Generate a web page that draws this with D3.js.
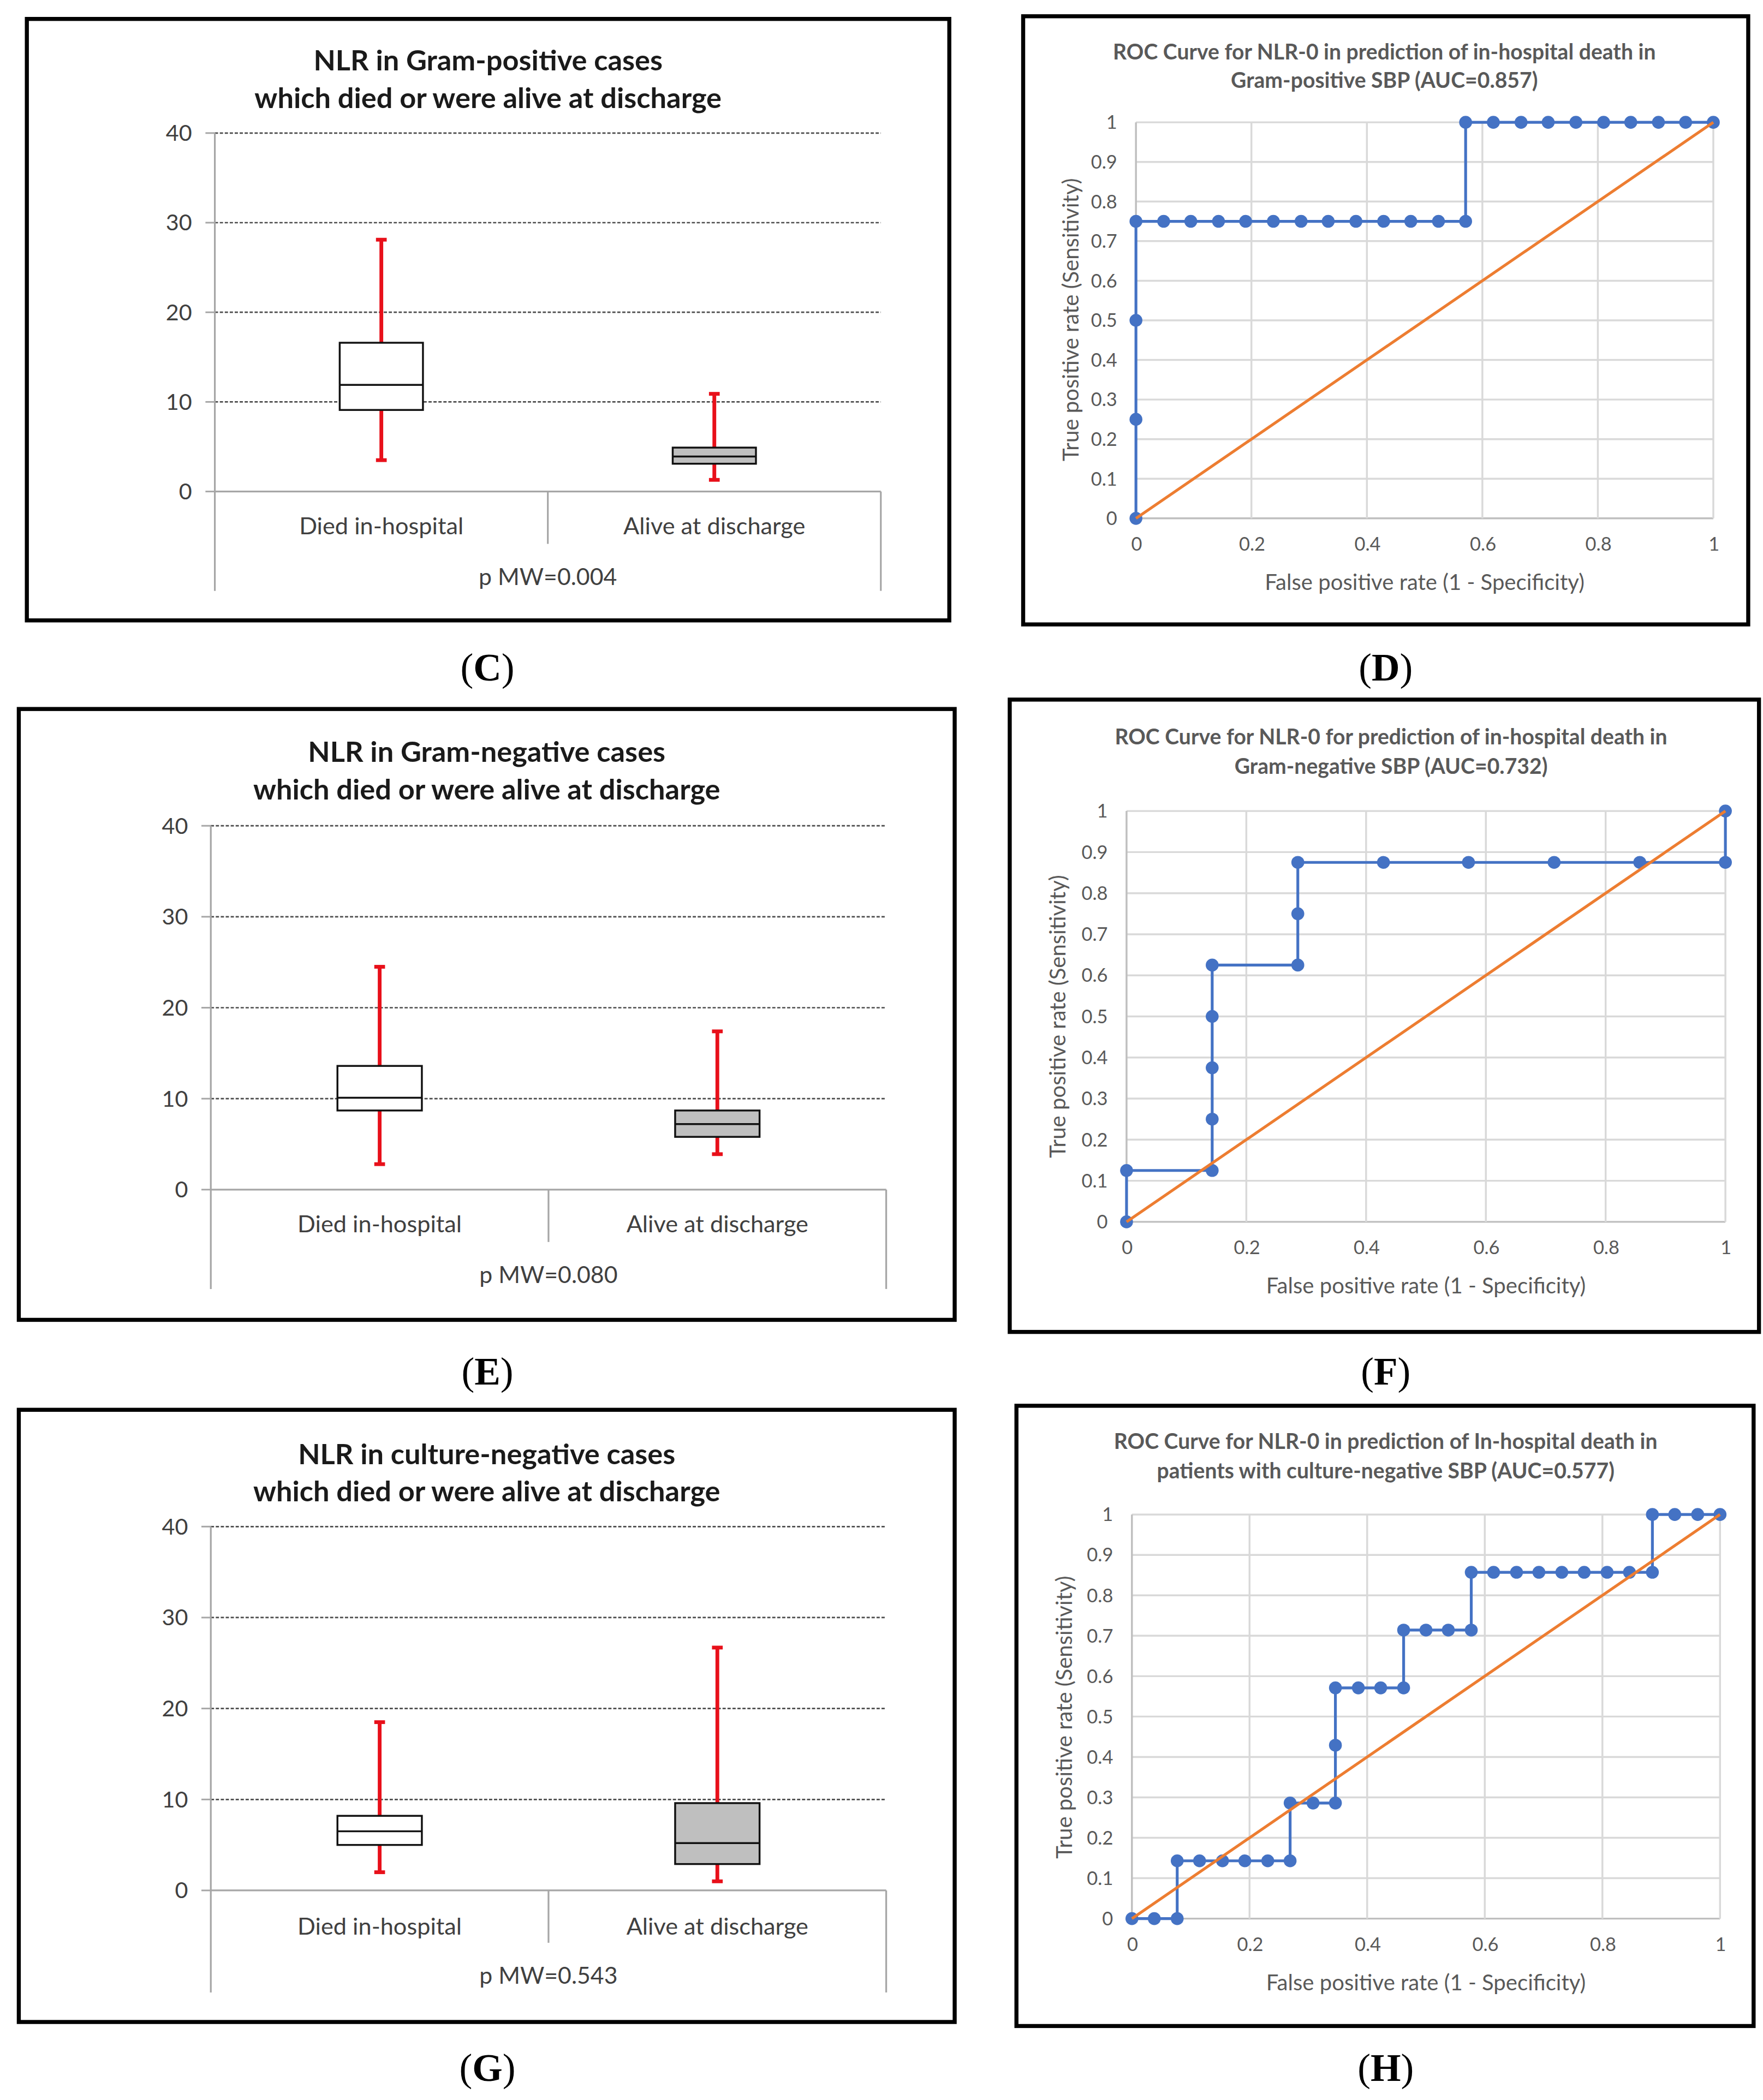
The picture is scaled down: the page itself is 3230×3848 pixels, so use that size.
<!DOCTYPE html>
<html>
<head>
<meta charset="utf-8">
<script src="https://cdn.jsdelivr.net/npm/d3@7"></script>
<style>
  body { margin: 0; background: #fff; }
  svg { display: block; }
</style>
</head>
<body>
<script>
// NLR box plots (C, E, G) and ROC curves (D, F, H)

// ---- data ----
var boxCategories = ["Died in-hospital", "Alive at discharge"];
var boxTicks = [0, 10, 20, 30, 40];
// each box: [min, q1, median, q3, max]
var gramPosBoxes = [[3.5, 9.1, 11.9, 16.6, 28.1], [1.3, 3.1, 3.9, 4.9, 10.9]];
var gramNegBoxes = [[2.8, 8.7, 10.1, 13.6, 24.5], [3.9, 5.8, 7.2, 8.7, 17.4]];
var cultNegBoxes = [[2.0, 5.0, 6.5, 8.2, 18.5], [1.0, 2.9, 5.2, 9.6, 26.7]];
var boxTitles = [
  ["NLR in Gram-positive cases", "which died or were alive at discharge"],
  ["NLR in Gram-negative cases", "which died or were alive at discharge"],
  ["NLR in culture-negative cases", "which died or were alive at discharge"]
];
var pValues = ["p MW=0.004", "p MW=0.080", "p MW=0.543"];

var rocXTicks = [0, 0.2, 0.4, 0.6, 0.8, 1];
var rocYTicks = [0, 0.1, 0.2, 0.3, 0.4, 0.5, 0.6, 0.7, 0.8, 0.9, 1];
var gramPosFpr = [0, 0, 0, 0, 0.048, 0.095, 0.143, 0.190, 0.238, 0.286, 0.333, 0.381, 0.429, 0.476, 0.524, 0.571,
                  0.571, 0.619, 0.667, 0.714, 0.762, 0.810, 0.857, 0.905, 0.952, 1];
var gramPosTpr = [0, 0.25, 0.5, 0.75, 0.75, 0.75, 0.75, 0.75, 0.75, 0.75, 0.75, 0.75, 0.75, 0.75, 0.75, 0.75,
                  1, 1, 1, 1, 1, 1, 1, 1, 1, 1];
var gramNegFpr = [0, 0, 0.143, 0.143, 0.143, 0.143, 0.143, 0.286, 0.286, 0.286, 0.429, 0.571, 0.714, 0.857, 1, 1];
var gramNegTpr = [0, 0.125, 0.125, 0.25, 0.375, 0.5, 0.625, 0.625, 0.75, 0.875, 0.875, 0.875, 0.875, 0.875, 0.875, 1];
var cultNegFpr = [0, 0.038, 0.077, 0.077, 0.115, 0.154, 0.192, 0.231, 0.269, 0.269, 0.308, 0.346, 0.346, 0.346,
                  0.385, 0.423, 0.462, 0.462, 0.500, 0.538, 0.577, 0.577, 0.615, 0.654, 0.692, 0.731, 0.769,
                  0.808, 0.846, 0.885, 0.885, 0.923, 0.962, 1];
var cultNegTpr = [0, 0, 0, 0.143, 0.143, 0.143, 0.143, 0.143, 0.143, 0.286, 0.286, 0.286, 0.429, 0.571,
                  0.571, 0.571, 0.571, 0.714, 0.714, 0.714, 0.714, 0.857, 0.857, 0.857, 0.857, 0.857, 0.857,
                  0.857, 0.857, 0.857, 1, 1, 1, 1];
var rocTitles = [
  ["ROC Curve for NLR-0 in prediction of in-hospital death in", "Gram-positive SBP (AUC=0.857)"],
  ["ROC Curve for NLR-0 for prediction of in-hospital death in", "Gram-negative SBP (AUC=0.732)"],
  ["ROC Curve for NLR-0 in prediction of In-hospital death in", "patients with culture-negative SBP (AUC=0.577)"]
];
var panelLetters = ["C", "D", "E", "F", "G", "H"];

// ---- page ----
var W = 1313, H = 1564;
var sans = "Lato, 'Open Sans', sans-serif";

var svg = d3.select("body")
  .append("svg")
  .attr("width", 3230)
  .attr("height", 3848)
  .attr("viewBox", "0 0 " + W + " " + H);

svg.append("rect").attr("width", W).attr("height", H).attr("fill", "#fff");

function panelLabel(letter, x, y) {
  var t = svg.append("text")
    .attr("x", x).attr("y", y)
    .attr("text-anchor", "middle")
    .attr("font-family", "'Liberation Serif', 'DejaVu Serif', serif")
    .attr("font-size", 29)
    .attr("fill", "#000");
  t.append("tspan").text("(");
  t.append("tspan").attr("font-weight", "bold").text(letter);
  t.append("tspan").text(")");
}

// box plot panel
function boxPanel(boxes, title, pText, lay) {
  var g = svg.append("g");
  g.append("rect")
    .attr("x", lay.frame[0]).attr("y", lay.frame[1])
    .attr("width", lay.frame[2]).attr("height", lay.frame[3])
    .attr("fill", "#fff").attr("stroke", "#000").attr("stroke-width", 3);

  var cx = lay.frame[0] + lay.frame[2] / 2;
  title.forEach(function(line, i) {
    g.append("text")
      .attr("x", cx).attr("y", lay.titleY[i])
      .attr("text-anchor", "middle").attr("dominant-baseline", "central")
      .attr("font-family", sans).attr("font-weight", "bold")
      .attr("font-size", 21.3).attr("fill", "#1a1a1a")
      .text(line);
  });

  var y = d3.scaleLinear().domain([0, 40]).range([lay.bottom, lay.top]);
  var x = d3.scaleBand().domain(boxCategories).range([lay.left, lay.right]);

  // dotted gridlines
  g.selectAll(".grid").data(boxTicks.filter(function(d) { return d > 0; }))
    .enter().append("line")
    .attr("x1", lay.left).attr("x2", lay.right)
    .attr("y1", function(d) { return y(d); }).attr("y2", function(d) { return y(d); })
    .attr("stroke", "#4d4d4d").attr("stroke-width", 1.1)
    .attr("stroke-dasharray", "2.4,1.3");
  // little ticks left of the axis
  g.selectAll(".tk").data(boxTicks)
    .enter().append("line")
    .attr("x1", lay.left - 7).attr("x2", lay.left)
    .attr("y1", function(d) { return y(d); }).attr("y2", function(d) { return y(d); })
    .attr("stroke", "#a6a6a6").attr("stroke-width", 1.2);

  var yAxis = g.append("g")
    .attr("transform", "translate(" + lay.left + ",0)")
    .call(d3.axisLeft(y).tickValues(boxTicks).tickSize(0).tickPadding(17));
  yAxis.select(".domain").remove();
  yAxis.selectAll("text")
    .attr("font-family", sans).attr("font-size", 16.8).attr("fill", "#404040");

  // axis frame lines
  var axisCol = "#a6a6a6";
  g.append("line").attr("x1", lay.left).attr("x2", lay.left)
    .attr("y1", lay.top).attr("y2", lay.axisBottom)
    .attr("stroke", axisCol).attr("stroke-width", 1.3);
  g.append("line").attr("x1", lay.left).attr("x2", lay.right)
    .attr("y1", y(0)).attr("y2", y(0))
    .attr("stroke", axisCol).attr("stroke-width", 1.3);
  g.append("line").attr("x1", lay.right).attr("x2", lay.right)
    .attr("y1", y(0)).attr("y2", lay.axisBottom)
    .attr("stroke", axisCol).attr("stroke-width", 1.3);
  g.append("line").attr("x1", x(boxCategories[1])).attr("x2", x(boxCategories[1]))
    .attr("y1", y(0)).attr("y2", lay.sepBottom)
    .attr("stroke", axisCol).attr("stroke-width", 1.3);

  g.selectAll(".cat").data(boxCategories)
    .enter().append("text")
    .attr("x", function(d) { return x(d) + x.bandwidth() / 2; })
    .attr("y", lay.catY)
    .attr("text-anchor", "middle").attr("dominant-baseline", "central")
    .attr("font-family", sans).attr("font-size", 17.6).attr("fill", "#404040")
    .text(function(d) { return d; });

  g.append("text")
    .attr("x", x(boxCategories[1])).attr("y", lay.pY)
    .attr("text-anchor", "middle").attr("dominant-baseline", "central")
    .attr("font-family", sans).attr("font-size", 17.4).attr("fill", "#404040")
    .text(pText);

  var bw = x.bandwidth() * 0.25;
  boxes.forEach(function(b, i) {
    var c = x(boxCategories[i]) + x.bandwidth() / 2;
    var fill = i === 0 ? "#fff" : "#bfbfbf";
    // whiskers
    g.append("line").attr("x1", c).attr("x2", c)
      .attr("y1", y(b[4])).attr("y2", y(b[3]))
      .attr("stroke", "#e8101a").attr("stroke-width", 2.8);
    g.append("line").attr("x1", c).attr("x2", c)
      .attr("y1", y(b[1])).attr("y2", y(b[0]))
      .attr("stroke", "#e8101a").attr("stroke-width", 2.8);
    [b[0], b[4]].forEach(function(v) {
      g.append("line").attr("x1", c - 4).attr("x2", c + 4)
        .attr("y1", y(v)).attr("y2", y(v))
        .attr("stroke", "#e8101a").attr("stroke-width", 2.8);
    });
    g.append("rect")
      .attr("x", c - bw / 2).attr("width", bw)
      .attr("y", y(b[3])).attr("height", y(b[1]) - y(b[3]))
      .attr("fill", fill).attr("stroke", "#111").attr("stroke-width", 1.4);
    g.append("line").attr("x1", c - bw / 2).attr("x2", c + bw / 2)
      .attr("y1", y(b[2])).attr("y2", y(b[2]))
      .attr("stroke", "#111").attr("stroke-width", 1.4);
  });

  panelLabel(lay.letter, lay.label[0], lay.label[1]);
}

// ROC panel
function rocPanel(fpr, tpr, title, lay) {
  var g = svg.append("g");
  g.append("rect")
    .attr("x", lay.frame[0]).attr("y", lay.frame[1])
    .attr("width", lay.frame[2]).attr("height", lay.frame[3])
    .attr("fill", "#fff").attr("stroke", "#000").attr("stroke-width", 3);

  title.forEach(function(line, i) {
    g.append("text")
      .attr("x", lay.titleX).attr("y", lay.titleY[i])
      .attr("text-anchor", "middle").attr("dominant-baseline", "central")
      .attr("font-family", sans).attr("font-weight", "bold")
      .attr("font-size", 15.9).attr("fill", "#595959")
      .text(line);
  });

  var x = d3.scaleLinear().domain([0, 1]).range([lay.left, lay.right]);
  var y = d3.scaleLinear().domain([0, 1]).range([lay.bottom, lay.top]);

  g.selectAll(".hg").data(rocYTicks)
    .enter().append("line")
    .attr("x1", lay.left).attr("x2", lay.right)
    .attr("y1", function(d) { return y(d); }).attr("y2", function(d) { return y(d); })
    .attr("stroke", function(d) { return d === 0 ? "#bfbfbf" : "#d9d9d9"; })
    .attr("stroke-width", 1.4);
  g.selectAll(".vg").data(rocXTicks)
    .enter().append("line")
    .attr("y1", lay.top).attr("y2", lay.bottom)
    .attr("x1", function(d) { return x(d); }).attr("x2", function(d) { return x(d); })
    .attr("stroke", function(d) { return d === 0 ? "#bfbfbf" : "#d9d9d9"; })
    .attr("stroke-width", 1.4);

  var yAxis = g.append("g")
    .attr("transform", "translate(" + lay.left + ",0)")
    .call(d3.axisLeft(y).tickValues(rocYTicks).tickSize(0).tickPadding(14).tickFormat(String));
  var xAxis = g.append("g")
    .attr("transform", "translate(0," + lay.bottom + ")")
    .call(d3.axisBottom(x).tickValues(rocXTicks).tickSize(0).tickPadding(14).tickFormat(String));
  [yAxis, xAxis].forEach(function(a) {
    a.select(".domain").remove();
    a.selectAll("text")
      .attr("font-family", sans).attr("font-size", 14).attr("fill", "#595959");
  });

  g.append("text")
    .attr("x", lay.xTitle[0]).attr("y", lay.xTitle[1])
    .attr("text-anchor", "middle").attr("dominant-baseline", "central")
    .attr("font-family", sans).attr("font-size", 16.3).attr("fill", "#595959")
    .text("False positive rate (1 - Specificity)");
  g.append("text")
    .attr("transform", "translate(" + lay.yTitle[0] + "," + lay.yTitle[1] + ") rotate(-90)")
    .attr("text-anchor", "middle").attr("dominant-baseline", "central")
    .attr("font-family", sans).attr("font-size", 16.3).attr("fill", "#595959")
    .text("True positive rate (Sensitivity)");

  var pts = fpr.map(function(d, i) { return [d, tpr[i]]; });
  var line = d3.line().x(function(d) { return x(d[0]); }).y(function(d) { return y(d[1]); });

  g.append("path").attr("d", line(pts))
    .attr("fill", "none").attr("stroke", "#4472c4").attr("stroke-width", 2.1)
    .attr("stroke-linejoin", "round");
  g.selectAll(".pt").data(pts)
    .enter().append("circle")
    .attr("cx", function(d) { return x(d[0]); })
    .attr("cy", function(d) { return y(d[1]); })
    .attr("r", 4.8).attr("fill", "#4472c4");

  // reference diagonal
  g.append("path").attr("d", line([[0, 0], [1, 1]]))
    .attr("fill", "none").attr("stroke", "#ed7d31").attr("stroke-width", 2.1);

  panelLabel(lay.letter, lay.label[0], lay.label[1]);
}

boxPanel(gramPosBoxes, boxTitles[0], pValues[0], {
  frame: [20, 14, 687, 448], left: 160, right: 656, top: 99, bottom: 366,
  axisBottom: 440, sepBottom: 405, titleY: [44, 72], catY: 391, pY: 429,
  letter: panelLetters[0], label: [363, 507]
});
boxPanel(gramNegBoxes, boxTitles[1], pValues[1], {
  frame: [14, 528, 697, 455], left: 157, right: 660, top: 615, bottom: 886,
  axisBottom: 960, sepBottom: 925, titleY: [559, 587], catY: 911, pY: 949,
  letter: panelLetters[2], label: [363, 1031]
});
boxPanel(cultNegBoxes, boxTitles[2], pValues[2], {
  frame: [14, 1050, 697, 456], left: 157, right: 660, top: 1137, bottom: 1408,
  axisBottom: 1484, sepBottom: 1447, titleY: [1082, 1110], catY: 1434, pY: 1471,
  letter: panelLetters[4], label: [363, 1550]
});

rocPanel(gramPosFpr, gramPosTpr, rocTitles[0], {
  frame: [762, 12, 540, 453], left: 846, right: 1276, top: 91, bottom: 386,
  titleX: 1031, titleY: [38, 59], xTitle: [1061, 433], yTitle: [797, 238],
  letter: panelLetters[1], label: [1032, 507]
});
rocPanel(gramNegFpr, gramNegTpr, rocTitles[1], {
  frame: [752, 521, 558, 471], left: 839, right: 1285, top: 604, bottom: 910,
  titleX: 1036, titleY: [548, 570], xTitle: [1062, 957], yTitle: [787, 757],
  letter: panelLetters[3], label: [1032, 1031]
});
rocPanel(cultNegFpr, cultNegTpr, rocTitles[2], {
  frame: [757, 1047, 549, 462], left: 843, right: 1281, top: 1128, bottom: 1429,
  titleX: 1032, titleY: [1073, 1095], xTitle: [1062, 1476], yTitle: [792, 1279],
  letter: panelLetters[5], label: [1032, 1550]
});
</script>
</body>
</html>
